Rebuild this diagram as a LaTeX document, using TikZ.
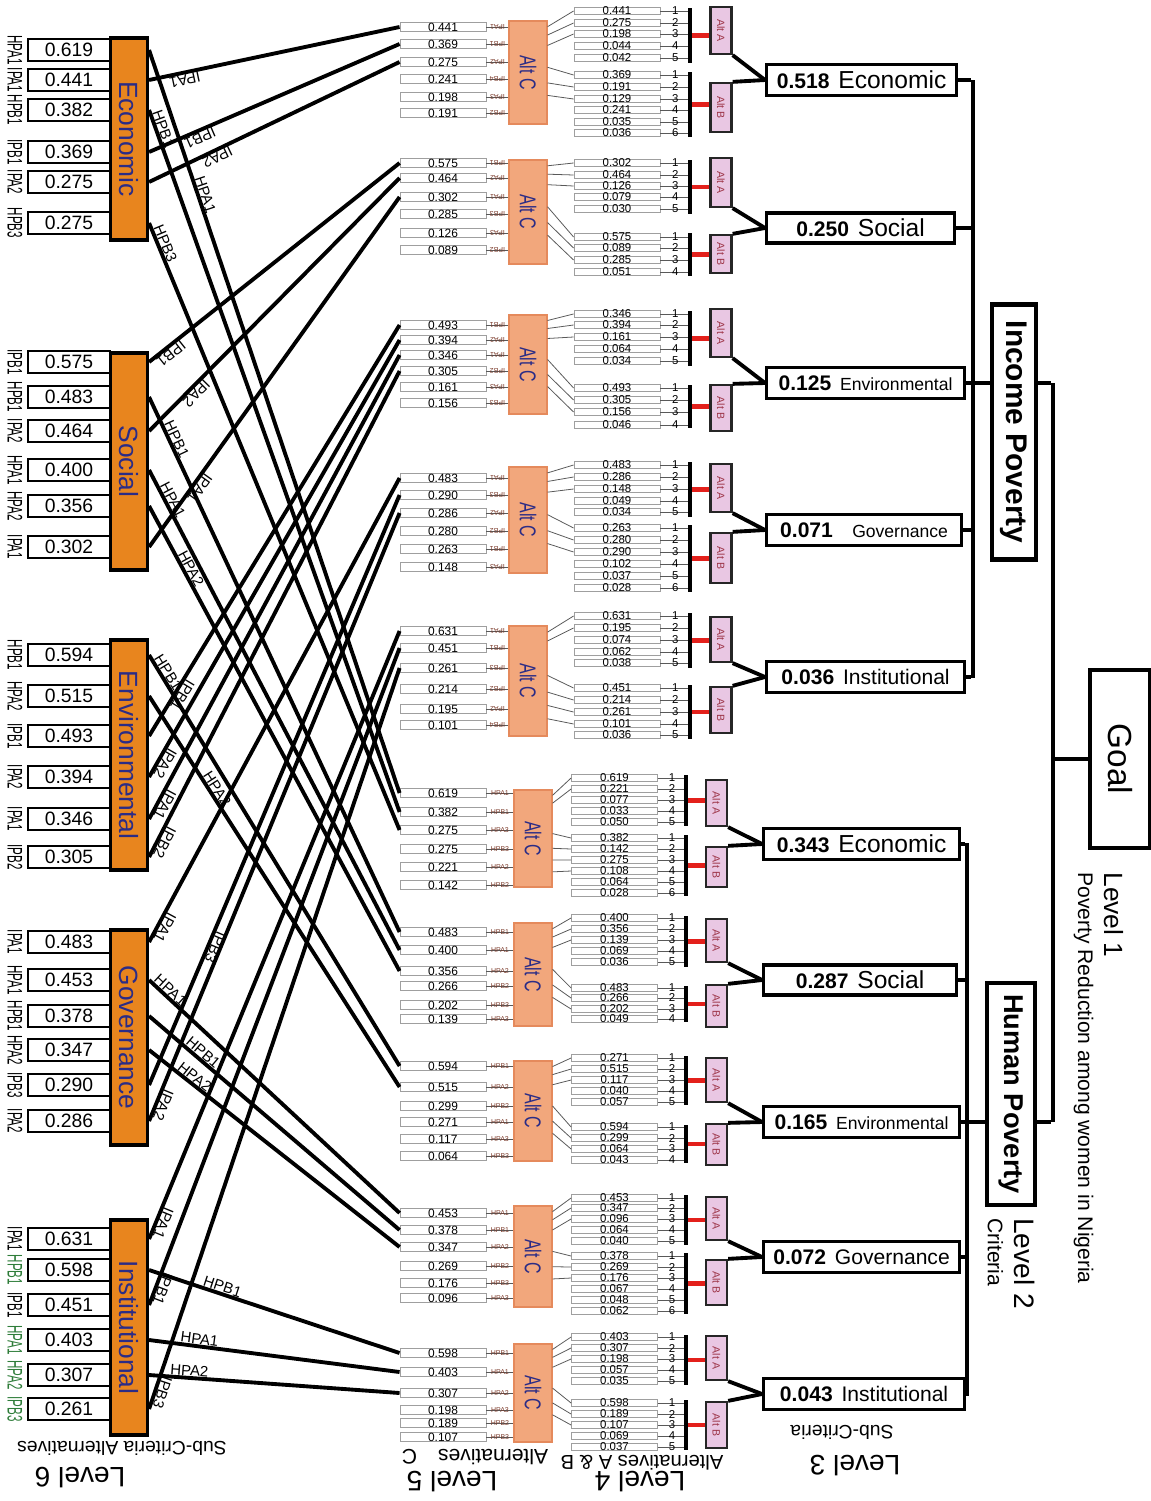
\documentclass[tikz,border=0pt]{standalone}
\usepackage{fontspec}
\setmainfont{Liberation Sans}
\usepackage{graphicx}
\usetikzlibrary{calc}

\definecolor{orangebox}{HTML}{E8851E}
\definecolor{navytext}{HTML}{2B2C86}
\definecolor{salmonfill}{HTML}{F2A77C}
\definecolor{salmonline}{HTML}{E58A5C}
\definecolor{pinkfill}{HTML}{E9C7E3}
\definecolor{altred}{HTML}{9C3346}
\definecolor{brownlab}{HTML}{7B3A2A}
\definecolor{labgreen}{HTML}{2F7D3A}
\definecolor{linkred}{HTML}{E3201B}

\def\fracsA{0.06,0.14,0.24}
\def\fracsB{0.45,0.6,0.72,0.84}

\newcommand{\subcol}[5]{%
  \node[sixbox, minimum height={(#3-#2)*0.02cm}] (#1) at (129,{(#2+#3)/2}) {\rotatebox{-90}{#4}};
  \foreach \yy/\val/\lab/\col [count=\i] in {#5} {
    \node[sixval] (#1\i) at (69,\yy) {\val};
    \node[sixlab, text=\col] (#1\i l) at (15,\yy) {\rotatebox{-90}{\scalebox{0.55}[1]{\lab}}};
    \coordinate (#1\i o) at (#1.east |- #1\i.center);
  }%
}
\newcommand{\cset}[4]{%
  \node[altc, minimum height={(#3-#2)*0.02cm}] (#1c) at (\cx,{(#2+#3)/2}) {\rotatebox{-90}{\scalebox{0.7}[1]{Alt C}}};
  \foreach \yy/\val/\lab [count=\i] in {#4} {
    \node[lfive] (#1v\i) at (443,\yy) {\val};
    \draw[thinlink] (#1v\i.east) -- (#1v\i.east -| #1c.west) node[midway, sublab] (#1v\i l) {\lab};
  }%
}
\newcommand{\abset}[9]{%
  \node[barnode, minimum height={(#5-#4)*0.02cm}] (#1#2bar) at (\barx,{(#4+#5)/2}) {};
  \node[altbox, minimum height={(#7-#6)*0.02cm}] (#1#2alt) at (\altx,{(#6+#7)/2}) {\rotatebox{-90}{Alt #2}};
  \draw[redlink] (#1#2bar.east) -- (#1#2bar.east -| #1#2alt.west);
  \foreach \yy/\val [count=\i] in {#3} {
    \node[lfour] (#1#2\i) at (\fourx,\yy) {\val};
    \draw[thinlink] (#1#2\i.east) -- (#1#2\i.east -| #1#2bar.west) node[pos=0.55, numlab] (#1#2\i n) {\i};
  }%
  \expandafter\let\expandafter\fraclist\csname fracs#2\endcsname
  \foreach \f [count=\j] in \fraclist {
    \ifnum\j>#9\relax\else
      \draw[thinlink] ($(#8.north east)!\f!(#8.south east)$) -- (#1#2\j.west);
    \fi
  }%
}
\newcommand{\wiredn}[4]{%
  \draw[wire] (#1) -- (#2.west);
  \path (#1) -- ($(#1)!#4!(#2.west)$) node[pos=1, wirelab] (#1lab) {#3};%
}
\newcommand{\wireup}[4]{%
  \draw[wire] (#1) -- (#2.west);
  \path ($(#1)!#4!(#2.west)$) -- (#1) node[pos=0, wirelab] (#1lab) {#3};%
}
\newcommand{\critnum}[1]{{\fontsize{12}{12}\selectfont\bfseries #1}\hspace{5pt}}
\newcommand{\critname}[2]{{\fontsize{#1}{#1}\selectfont #2}}

\begin{document}
\begin{tikzpicture}[
    x=0.02cm, y=-0.02cm,
    every node/.style={inner sep=0pt},
    sixbox/.style={draw, line width=1.8pt, fill=orangebox, minimum width=0.74cm, text=navytext, font=\fontsize{15}{15}\selectfont},
    sixval/.style={draw, line width=1.1pt, fill=white, minimum width=1.64cm, minimum height=0.44cm, font=\fontsize{11}{11}\selectfont},
    sixlab/.style={font=\fontsize{12}{12}\selectfont},
    lfive/.style={draw=gray!75, line width=0.5pt, fill=white, minimum width=1.72cm, minimum height=0.18cm, text height=4.6pt, text depth=0pt, font=\fontsize{6.8}{7}\selectfont},
    sublab/.style={text=brownlab, inner sep=0.5pt, font=\fontsize{4}{4}\selectfont},
    altc/.style={draw=salmonline, line width=0.6pt, fill=salmonfill, minimum width=0.76cm, text=navytext, font=\fontsize{13}{13}\selectfont},
    lfour/.style={draw=gray!75, line width=0.5pt, fill=white, minimum width=1.72cm, minimum height=0.15cm, text height=4.2pt, text depth=0pt, font=\fontsize{6.5}{7}\selectfont},
    numlab/.style={font=\fontsize{6.5}{7}\selectfont},
    barnode/.style={fill=black, minimum width=0.08cm},
    altbox/.style={draw=black!85, line width=1.3pt, fill=pinkfill, minimum width=0.42cm, text=altred, font=\fontsize{6}{6}\selectfont},
    redlink/.style={draw=linkred, line width=2.3pt},
    thinlink/.style={draw=black!65, line width=0.45pt},
    wire/.style={line width=2.2pt},
    wirelab/.style={sloped, allow upside down, above, inner sep=1pt, font=\fontsize{8.5}{9}\selectfont},
    link/.style={line width=2.2pt},
    critbox/.style={draw, line width=1.8pt, fill=white, anchor=west, minimum height=0.62cm},
    trunk/.style={line width=1.8pt},
    povbox/.style={draw, line width=2.4pt, fill=white, font=\fontsize{17}{17}\selectfont\bfseries},
    goalbox/.style={draw, line width=1.8pt, minimum width=1.2cm, minimum height=3.56cm, font=\fontsize{19}{19}\selectfont},
    levellab/.style={rotate=180, font=\fontsize{16}{16}\selectfont},
    levelsub/.style={rotate=180, font=\fontsize{11}{11}\selectfont}
]
\useasboundingbox (0,0) rectangle (1151,1501);

\subcol{eco}{38}{240}{Economic}{50/0.619/HPA1/black, 80/0.441/IPA1/black, 110/0.382/HPB1/black, 152/0.369/IPB1/black, 182/0.275/IPA2/black, 223/0.275/HPB3/black}
\subcol{soc}{353}{570}{Social}{362/0.575/IPB1/black, 397/0.483/HPB1/black, 431/0.464/IPA2/black, 470/0.400/HPA1/black, 506/0.356/HPA2/black, 547/0.302/IPA1/black}
\subcol{env}{640}{870}{Environmental}{655/0.594/HPB1/black, 696/0.515/HPA2/black, 736/0.493/IPB1/black, 777/0.394/IPA2/black, 819/0.346/IPA1/black, 857/0.305/IPB2/black}
\subcol{gov}{930}{1145}{Governance}{942/0.483/IPA1/black, 980/0.453/HPA1/black, 1016/0.378/HPB1/black, 1050/0.347/HPA2/black, 1085/0.290/IPB3/black, 1121/0.286/IPA2/black}
\subcol{inst}{1220}{1435}{Institutional}{1239/0.631/IPA1/black, 1270/0.598/HPB1/labgreen, 1305/0.451/IPB1/black, 1340/0.403/HPA1/labgreen, 1375/0.307/HPA2/labgreen, 1409/0.261/IPB3/labgreen}

\begin{scope}[sublab/.append style={rotate=180}]
\def\cx{528}\def\fourx{617}\def\barx{690}\def\altx{721}
\cset{g1}{21}{124}{27/0.441/IPA1, 44/0.369/IPB1, 62/0.275/IPA2, 79/0.241/IPB4, 97/0.198/IPA3, 113/0.191/IPB2}
\abset{g1}{A}{11/0.441, 23/0.275, 34/0.198, 46/0.044, 58/0.042}{8}{63}{7}{54}{g1c}{3}
\abset{g1}{B}{75/0.369, 87/0.191, 99/0.129, 110/0.241, 122/0.035, 133/0.036}{72}{137}{83}{132}{g1c}{3}
\cset{g2}{160}{264}{163/0.575/IPB1, 178/0.464/IPA2, 197/0.302/IPA1, 214/0.285/IPB3, 233/0.126/IPA3, 250/0.089/IPB2}
\abset{g2}{A}{163/0.302, 175/0.464, 186/0.126, 197/0.079, 209/0.030}{160}{214}{158}{207}{g2c}{3}
\abset{g2}{B}{237/0.575, 248/0.089, 260/0.285, 272/0.051}{233}{276}{235}{273}{g2c}{3}
\cset{g3}{315}{414}{325/0.493/IPB1, 340/0.394/IPA2, 355/0.346/IPA1, 371/0.305/IPB2, 387/0.161/IPA3, 403/0.156/IPB3}
\abset{g3}{A}{314/0.346, 325/0.394, 337/0.161, 349/0.064, 361/0.034}{311}{366}{309}{357}{g3c}{3}
\abset{g3}{B}{388/0.493, 400/0.305, 412/0.156, 425/0.046}{385}{428}{385}{431}{g3c}{3}
\cset{g4}{467}{573}{478/0.483/IPA1, 495/0.290/IPB3, 513/0.286/IPA2, 531/0.280/IPB2, 549/0.263/IPB1, 567/0.148/IPA3}
\abset{g4}{A}{465/0.483, 477/0.286, 489/0.148, 501/0.049, 512/0.034}{462}{517}{464}{512}{g4c}{3}
\abset{g4}{B}{528/0.263, 540/0.280, 552/0.290, 564/0.102, 576/0.037, 588/0.028}{525}{592}{533}{583}{g4c}{3}
\cset{g5}{626}{736}{631/0.631/IPA1, 648/0.451/IPB1, 668/0.261/IPB3, 689/0.214/IPB2, 709/0.195/IPA2, 725/0.101/IPB4}
\abset{g5}{A}{616/0.631, 628/0.195, 640/0.074, 652/0.062, 663/0.038}{613}{668}{617}{662}{g5c}{2}
\abset{g5}{B}{688/0.451, 700/0.214, 712/0.261, 724/0.101, 735/0.036}{685}{739}{687}{733}{g5c}{4}
\end{scope}

\begin{scope}
\def\cx{533}\def\fourx{614.5}\def\barx{686}\def\altx{716.5}
\cset{g6}{790}{887}{793/0.619/HPA1, 812/0.382/HPB1, 830/0.275/HPA3, 849/0.275/HPB3, 867/0.221/HPA2, 885/0.142/HPB2}
\abset{g6}{A}{778/0.619, 789/0.221, 800/0.077, 811/0.033, 822/0.050}{775}{826}{780}{826}{g6c}{2}
\abset{g6}{B}{838/0.382, 849/0.142, 860/0.275, 871/0.108, 882/0.064, 893/0.028}{835}{896}{847}{887}{g6c}{4}
\cset{g7}{923}{1026}{932/0.483/HPB1, 950/0.400/HPA1, 971/0.356/HPA2, 986/0.266/HPB2, 1005/0.202/HPB3, 1019/0.139/HPA3}
\abset{g7}{A}{918/0.400, 929/0.356, 940/0.139, 951/0.069, 962/0.036}{916}{967}{919}{962}{g7c}{3}
\abset{g7}{B}{988/0.483, 998/0.266, 1009/0.202, 1019/0.049}{986}{1022}{985}{1027}{g7c}{3}
\cset{g8}{1061}{1161}{1066/0.594/HPB1, 1087/0.515/HPA2, 1106/0.299/HPB2, 1122/0.271/HPA1, 1139/0.117/HPA3, 1156/0.064/HPB3}
\abset{g8}{A}{1058/0.271, 1069/0.515, 1080/0.117, 1091/0.040, 1102/0.057}{1056}{1105}{1058}{1102}{g8c}{3}
\abset{g8}{B}{1127/0.594, 1138/0.299, 1149/0.064, 1160/0.043}{1125}{1163}{1124}{1165}{g8c}{3}
\cset{g9}{1206}{1307}{1213/0.453/HPA1, 1230/0.378/HPB1, 1247/0.347/HPA2, 1266/0.269/HPB2, 1283/0.176/HPB3, 1298/0.096/HPA3}
\abset{g9}{A}{1198/0.453, 1208/0.347, 1219/0.096, 1230/0.064, 1241/0.040}{1195}{1245}{1197}{1240}{g9c}{3}
\abset{g9}{B}{1256/0.378, 1267/0.269, 1278/0.176, 1289/0.067, 1300/0.048, 1311/0.062}{1253}{1314}{1260}{1305}{g9c}{3}
\cset{g10}{1344}{1442}{1353/0.598/HPB1, 1372/0.403/HPA1, 1393/0.307/HPA2, 1410/0.198/HPA3, 1423/0.189/HPB2, 1437/0.107/HPB3}
\abset{g10}{A}{1337/0.403, 1348/0.307, 1359/0.198, 1370/0.057, 1381/0.035}{1335}{1385}{1336}{1380}{g10c}{3}
\abset{g10}{B}{1403/0.598, 1414/0.189, 1425/0.107, 1436/0.069, 1447/0.037}{1400}{1450}{1402}{1448}{g10c}{3}
\end{scope}

\wiredn{eco1o}{g6v1}{HPA1}{3.1cm}
\wireup{eco2o}{g1v1}{IPA1}{0.7cm}
\wiredn{eco3o}{g6v2}{HPB1}{0.45cm}
\wireup{eco4o}{g1v2}{IPB1}{1.05cm}
\wireup{eco5o}{g1v3}{IPA2}{1.45cm}
\wiredn{eco6o}{g6v3}{HPB3}{0.5cm}
\wireup{soc1o}{g2v1}{IPB1}{0.45cm}
\wiredn{soc2o}{g7v1}{HPB1}{1.0cm}
\wireup{soc3o}{g2v2}{IPA2}{1.2cm}
\wiredn{soc4o}{g7v2}{HPA1}{0.75cm}
\wiredn{soc5o}{g7v3}{HPA2}{1.5cm}
\wireup{soc6o}{g2v3}{IPA1}{1.55cm}
\wiredn{env1o}{g8v1}{HPB1}{0.5cm}
\wiredn{env2o}{g8v2}{HPA2}{2.3cm}
\wireup{env3o}{g3v1}{IPB1}{1.05cm}
\wireup{env4o}{g3v2}{IPA2}{0.4cm}
\wireup{env5o}{g3v3}{IPA1}{0.4cm}
\wireup{env6o}{g3v4}{IPB2}{0.4cm}
\wireup{gov1o}{g4v1}{IPA1}{0.4cm}
\wiredn{gov2o}{g9v1}{HPA1}{0.45cm}
\wiredn{gov3o}{g9v2}{HPB1}{1.3cm}
\wiredn{gov4o}{g9v3}{HPA2}{1.05cm}
\wireup{gov5o}{g4v2}{IPB3}{3.05cm}
\wireup{gov6o}{g4v3}{IPA2}{0.4cm}
\wireup{inst1o}{g5v1}{IPA1}{0.4cm}
\wiredn{inst2o}{g10v1}{HPB1}{1.5cm}
\wireup{inst3o}{g5v2}{IPB1}{0.4cm}
\wiredn{inst4o}{g10v2}{HPA1}{1.0cm}
\wiredn{inst5o}{g10v3}{HPA2}{0.8cm}
\wireup{inst6o}{g5v3}{IPB3}{0.4cm}

\node[critbox, minimum width=3.8cm] (ie) at (765,80) {\critnum{0.518}\critname{14}{Economic}};
\node[critbox, minimum width=3.76cm, minimum height=0.6cm] (is) at (765,228) {\critnum{0.250}\critname{14}{Social}};
\node[critbox, minimum width=3.96cm] (ienv) at (765,383) {\critnum{0.125}\critname{10}{Environmental}};
\node[critbox, minimum width=3.9cm] (ig) at (765,530) {\critnum{0.071}\hspace{6pt}\critname{10}{Governance}};
\node[critbox, minimum width=3.96cm] (ii) at (765,677) {\critnum{0.036}\critname{12}{Institutional}};
\node[critbox, minimum width=3.92cm] (he) at (762,844) {\critnum{0.343}\critname{14}{Economic}};
\node[critbox, minimum width=3.86cm, minimum height=0.6cm] (hs) at (762,980) {\critnum{0.287}\critname{14}{Social}};
\node[critbox, minimum width=3.92cm] (henv) at (762,1122) {\critnum{0.165}\critname{10}{Environmental}};
\node[critbox, minimum width=3.92cm] (hg) at (762,1257) {\critnum{0.072}\critname{12}{Governance}};
\node[critbox, minimum width=4.02cm] (hi) at (762,1394) {\critnum{0.043}\critname{12}{Institutional}};

\foreach \g/\t in {g1/ie, g2/is, g3/ienv, g4/ig, g5/ii, g6/he, g7/hs, g8/henv, g9/hg, g10/hi} {
  \draw[link] (\g Aalt.south east) -- (\t.west);
  \draw[link] (\g Balt.north east) -- (\t.west);
}

\node[barnode, minimum width=0.065cm, minimum height=11.96cm] (ibar) at (973,379) {};
\node[barnode, minimum width=0.065cm, minimum height=11.06cm] (hbar) at (967,1119.5) {};
\node[barnode, minimum width=0.065cm, minimum height=14.78cm] (gbar) at (1053,752.5) {};
\node[povbox, minimum width=0.88cm, minimum height=5.1cm] (ipov) at (1014,432) {\rotatebox{-90}{Income Poverty}};
\node[povbox, minimum width=0.96cm, minimum height=4.44cm, font=\fontsize{15.5}{15.5}\selectfont\bfseries] (hpov) at (1011,1094) {\rotatebox{-90}{Human Poverty}};
\node[goalbox] (goal) at (1120,759) {\rotatebox{-90}{Goal}};

\foreach \n in {ie, is, ienv, ig, ii} \draw[trunk] (\n.east) -- (\n.east -| ibar.west);
\foreach \n in {he, hs, henv, hg, hi} \draw[trunk] (\n.east) -- (\n.east -| hbar.west);
\draw[trunk] (ibar.east |- ienv.east) -- (ipov.west |- ienv.east);
\draw[trunk] (hbar.east |- henv.east) -- (hpov.west |- henv.east);
\draw[trunk] (ipov.east |- ienv.east) -- (gbar.west |- ienv.east);
\draw[trunk] (hpov.east |- henv.east) -- (gbar.west |- henv.east);
\draw[trunk] (gbar.east |- goal.west) -- (goal.west);

\node[anchor=north west, rotate=-90, align=left, font=\fontsize{12}{15}\selectfont] (lvone) at (1124,872) {{\fontsize{15}{15}\selectfont Level 1}\\Poverty Reduction among women in Nigeria};
\node[anchor=north west, rotate=-90, align=left, font=\fontsize{12}{15}\selectfont] (lvtwo) at (1035,1218) {{\fontsize{16}{16}\selectfont Level 2}\\Criteria};
\node[levellab] (lvthree) at (855,1466) {Level 3};
\node[levelsub] (lvthreesub) at (842,1432) {Sub-Criteria};
\node[levellab] (lvfour) at (640,1482) {Level 4};
\node[levelsub, font=\fontsize{11.5}{12}\selectfont] (lvfoursub) at (642,1463) {Alternatives A \& B};
\node[levellab] (lvfive) at (452,1482) {Level 5};
\node[levelsub, font=\fontsize{12}{12}\selectfont] (lvfivesub) at (475,1457) {Alternatives\quad C};
\node[levellab] (lvsix) at (80,1478) {Level 6};
\node[levelsub] (lvsixsub) at (122,1448) {Sub-Criteria Alternatives};
\end{tikzpicture}
\end{document}
